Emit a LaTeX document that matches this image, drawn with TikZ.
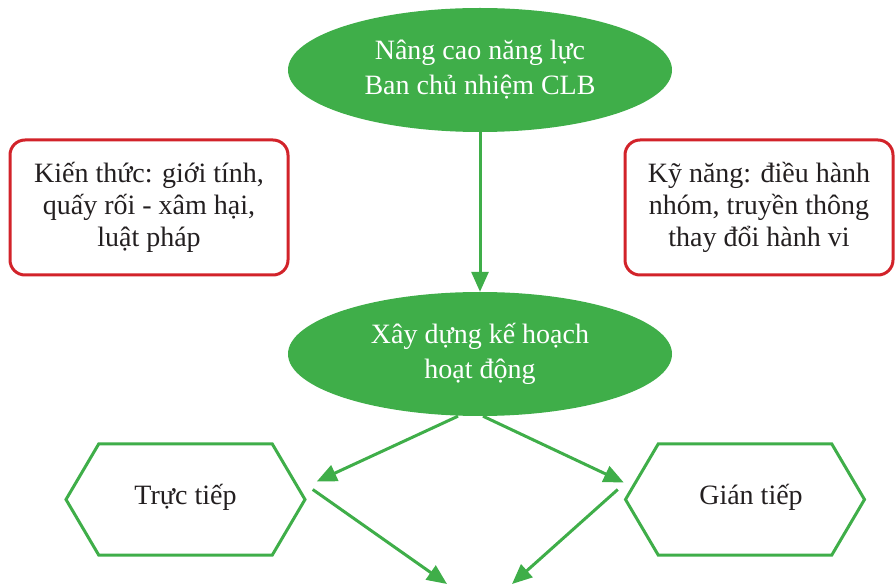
\documentclass[tikz,border=0pt]{standalone}
\usepackage{fontspec}
\setmainfont{Liberation Serif}
\usetikzlibrary{arrows.meta, calc, shapes.geometric, shapes.symbols}
\definecolor{leafgreen}{HTML}{3FAE49}
\definecolor{boxred}{HTML}{D2232A}
\definecolor{inkgray}{HTML}{231F20}

\begin{document}
\begin{tikzpicture}[x=1pt, y=-1pt,
    goal/.style={ellipse, fill=leafgreen, text=white, align=center, inner sep=0pt,
      minimum width=384pt, minimum height=124pt, font=\fontsize{28}{35}\selectfont},
    topic/.style={draw=boxred, line width=3pt, rounded corners=15pt, text=inkgray,
      align=center, minimum height=135pt, font=\fontsize{28}{32}\selectfont},
    way/.style={signal, signal to=west and east, signal pointer angle=119, draw=leafgreen,
      line width=3pt, text=inkgray, minimum width=239pt, minimum height=111pt,
      font=\fontsize{28}{32}\selectfont},
    flow/.style={draw=leafgreen, line width=3pt, -{Triangle[length=20pt, width=17pt]}}]
  \useasboundingbox (0,0) rectangle (895,585);

  % ellipses
  \node[goal] (capacity) at (480,70) {Nâng cao năng lực\\Ban chủ nhiệm CLB};
  \node[goal] (plan) at (480,354) {Xây dựng kế hoạch\\hoạt động};

  % side boxes
  \node[topic, minimum width=278pt] (knowledge) at (149,207.5) {Kiến thức: giới tính,\\quấy rối - xâm hại,\\luật pháp};
  \node[topic, minimum width=268pt] (skills) at (759,207.5) {Kỹ năng: điều hành\\nhóm, truyền thông\\thay đổi hành vi};

  % hexagons
  \node[way] (direct) at (185.5,499.5) {\raisebox{10pt}{Trực tiếp}};
  \node[way] (indirect) at (745,499.5) {\hspace{12pt}\raisebox{10pt}{Gián tiếp}};

  \coordinate (endL) at (447,584);
  \coordinate (endR) at (512,584);

  \draw[flow] (capacity.south) -- (plan.north);
  \draw[flow] ($(plan.south)+(-22,0)$) -- ($(direct.east)+(10,-18)$);
  \draw[flow] ($(plan.south)+(3,0)$) -- ($(indirect.west)+(0,-17)$);
  \draw[flow] ($(direct.east)+(6,-10)$) -- (endL);
  \draw[flow] ($(indirect.west)+(-6,-10)$) -- (endR);
\end{tikzpicture}
\end{document}
